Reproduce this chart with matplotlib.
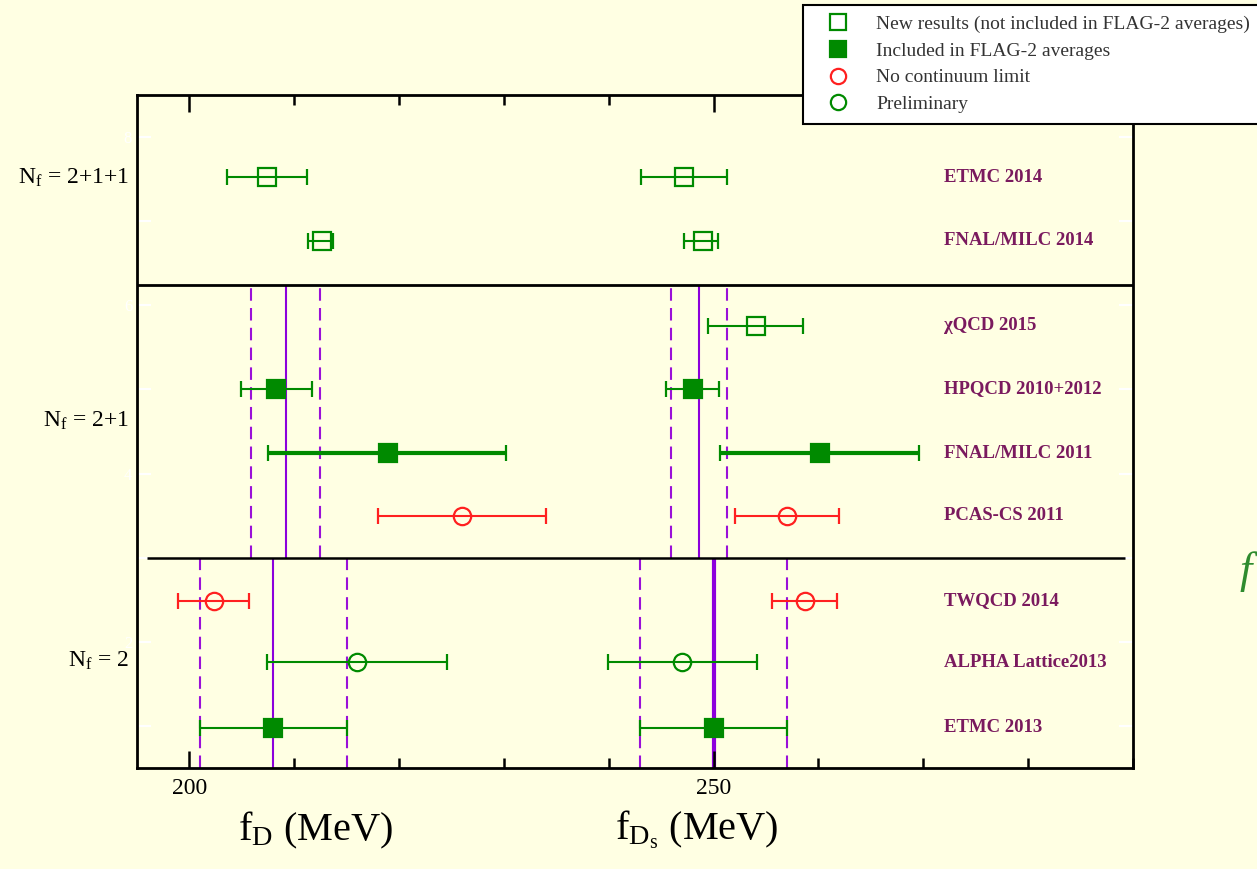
import numpy as np
import matplotlib
matplotlib.use('Agg')
import matplotlib.pyplot as plt
from matplotlib.lines import Line2D
from matplotlib.ticker import MultipleLocator, FixedLocator
from matplotlib.transforms import blended_transform_factory

plt.rcParams['font.family'] = ['Liberation Serif', 'DejaVu Serif']
plt.rcParams['mathtext.fontset'] = 'custom'
plt.rcParams['mathtext.rm'] = 'Liberation Serif'
plt.rcParams['mathtext.it'] = 'Liberation Serif:italic'

# ── data: one row per collaboration, top to bottom ─────────────────
names = ['ETMC 2014', 'FNAL/MILC 2014', 'χQCD 2015', 'HPQCD 2010+2012',
         'FNAL/MILC 2011', 'PCAS-CS 2011', 'TWQCD 2014', 'ALPHA Lattice2013',
         'ETMC 2013']
ypos = [7.52, 6.77, 5.76, 5.01, 4.24, 3.50, 2.49, 1.76, 0.98]
kind = ['new', 'new', 'new', 'incl', 'incl', 'nocl', 'nocl', 'prelim', 'incl']

fD = [207.4, 212.6, np.nan, 208.3, 218.9, 226.0, 202.3, 216.0, 208.0]
fD_lo = [3.8, 1.3, np.nan, 3.4, 11.4, 8.0, 3.4, 8.6, 7.0]
fD_hi = [3.8, 1.1, np.nan, 3.4, 11.3, 8.0, 3.4, 8.6, 7.0]

fDs = [247.2, 249.0, 254.0, 248.0, 260.1, 257.0, 258.7, 247.0, 250.0]
fDs_lo = [4.1, 1.8, 4.5, 2.5, 9.5, 5.0, 3.1, 7.1, 7.0]
fDs_hi = [4.1, 1.4, 4.5, 2.5, 9.5, 5.0, 3.1, 7.1, 7.0]

# FLAG averages per Nf group: (value, error, y-range)
avg_fD = [209.2, 208.0]
avg_fD_err = [3.3, 7.0]
avg_fDs = [248.6, 250.0]
avg_fDs_err = [2.7, 7.0]
avg_ymin = [3.0, 0.5]
avg_ymax = [6.24, 3.0]
avg_lw_fDs = [1.5, 3.0]

nf_labels = [r'N$_\mathrm{f}$ = 2+1+1', r'N$_\mathrm{f}$ = 2+1', r'N$_\mathrm{f}$ = 2']
nf_ypos = [7.52, 4.63, 1.77]

BG = '#FFFFE3'
GREEN = '#008A00'
RED = '#FF2020'
PURPLE = '#8C00DC'
LABEL_C = '#7A1A5E'

STYLE = {
    'new':    dict(marker='s', mfc='none', mec=GREEN, color=GREEN),
    'incl':   dict(marker='s', mfc=GREEN, mec=GREEN, color=GREEN),
    'nocl':   dict(marker='o', mfc='none', mec=RED, color=RED),
    'prelim': dict(marker='o', mfc='none', mec=GREEN, color=GREEN),
}

fig = plt.figure(figsize=(12.57, 8.69), dpi=100)
fig.patch.set_facecolor(BG)
ax = fig.add_axes([137 / 1257, 101 / 869, 996 / 1257, 673 / 869])
ax.set_facecolor(BG)
ax.set_xlim(195, 290)
ax.set_ylim(0.5, 8.5)

# averages: solid centre line + dashed error band edges
for i in range(len(avg_fD)):
    for val, err, lw in [(avg_fD[i], avg_fD_err[i], 1.5),
                         (avg_fDs[i], avg_fDs_err[i], avg_lw_fDs[i])]:
        ax.vlines(val, avg_ymin[i], avg_ymax[i], color=PURPLE, lw=lw, zorder=1)
        for e in (-err, err):
            ax.vlines(val + e, avg_ymin[i], avg_ymax[i], color='#9A10D8',
                      lw=1.5, linestyles=(0, (6, 3.5)), zorder=1)

# data points
for i, name in enumerate(names):
    st = STYLE[kind[i]]
    elw = 3.0 if name == 'FNAL/MILC 2011' else 1.5
    for x, lo, hi in [(fD[i], fD_lo[i], fD_hi[i]), (fDs[i], fDs_lo[i], fDs_hi[i])]:
        if np.isnan(x):
            continue
        ax.errorbar(x, ypos[i], xerr=[[lo], [hi]], fmt=st['marker'],
                    ms=12.5, mfc=st['mfc'], mec=st['mec'], mew=1.6,
                    ecolor=st['color'], elinewidth=elw, capsize=6,
                    capthick=1.8, zorder=3)
    ax.text(272, ypos[i], name, color=LABEL_C, fontsize=13.5, fontweight='bold',
            ha='left', va='center', zorder=4)

# group separators
ax.axhline(6.24, color='black', lw=2.0, zorder=2)
ax.hlines(3.0, 196.0, 289.2, color='black', lw=1.8, zorder=2)

trans = blended_transform_factory(ax.transAxes, ax.transData)
for lab, y in zip(nf_labels, nf_ypos):
    ax.text(-0.008, y, lab, transform=trans, ha='right', va='center', fontsize=17)

# x ticks: labelled majors at 200/250, minors every 10 MeV, on both sides
ax.xaxis.set_major_locator(FixedLocator([200, 250]))
ax.xaxis.set_minor_locator(MultipleLocator(10))
ax.tick_params(axis='x', which='major', direction='in', length=12, width=1.8,
               top=True, labelsize=17, pad=7)
ax.tick_params(axis='x', which='minor', direction='in', length=7, width=1.8, top=True)

# y axis kept, but drawn in white
ax.yaxis.set_major_locator(FixedLocator(range(1, 9)))
ax.set_yticklabels(['', '2', '', '4', '', '6', '', '8'])
ax.tick_params(axis='y', direction='in', length=10, width=1.5, colors='white',
               right=True, labelsize=12)

for sp in ax.spines.values():
    sp.set_linewidth(2.0)
    sp.set_color('black')

fig.text(315 / 1257, 1 - 830 / 869, r'f$_\mathrm{D}$ (MeV)', fontsize=29,
         ha='center', va='center')
fig.text(697 / 1257, 1 - 830 / 869, r'f$_{\mathrm{D}_\mathrm{s}}$ (MeV)', fontsize=29,
         ha='center', va='center')

# partial label at right edge
fig.text(1239 / 1257, 1 - 572 / 869, 'f', fontsize=32, style='italic',
         color='#2E8B2E', ha='left', va='center')

handles = [
    Line2D([], [], ls='none', marker='s', ms=11, mfc='white', mec=GREEN, mew=1.6),
    Line2D([], [], ls='none', marker='s', ms=11, mfc=GREEN, mec=GREEN, mew=1.6),
    Line2D([], [], ls='none', marker='o', ms=11, mfc='white', mec=RED, mew=1.6),
    Line2D([], [], ls='none', marker='o', ms=11, mfc='white', mec=GREEN, mew=1.6),
]
labels = ['New results (not included in FLAG-2 averages)',
          'Included in FLAG-2 averages', 'No continuum limit', 'Preliminary']
leg = fig.legend(handles, labels, loc='upper left',
                 bbox_to_anchor=(803 / 1257, 1 - 5 / 869), borderaxespad=0,
                 fontsize=14, labelcolor='#333333', frameon=True, fancybox=False,
                 edgecolor='black', facecolor='white', framealpha=1,
                 handlelength=2.5, handletextpad=0.7, labelspacing=0.46,
                 borderpad=0.55)
leg.get_frame().set_linewidth(1.5)

fig.savefig('out.png', dpi=100, facecolor=BG)
